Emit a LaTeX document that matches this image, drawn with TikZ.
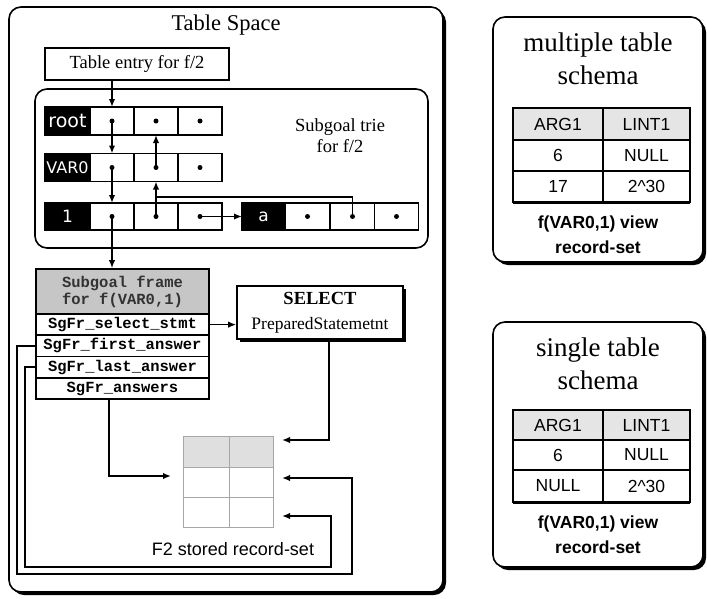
\documentclass[tikz,border=0pt]{standalone}
\usepackage{fontspec}
\setmainfont{Liberation Serif}
\setsansfont{Liberation Sans}
\setmonofont{Liberation Mono}
\newfontfamily\dejavu{DejaVu Sans}
\usetikzlibrary{arrows.meta,calc,shadows}
\newcommand{\myfs}[1]{\fontsize{#1}{#1}\selectfont}
\tikzset{
 ln/.style={line width=1.6pt},
 arr/.style={ln,-{Latex[length=8pt,width=6.5pt]}},
 cell/.style={draw,ln,fill=white,minimum width=44pt,minimum height=28pt,inner sep=0pt,outer sep=0pt},
 lab/.style={cell,fill=black,text=white,font=\dejavu\myfs{17}},
 frow/.style={draw,ln,fill=white,minimum width=173pt,minimum height=21.3pt,inner sep=0pt,outer sep=0pt,font=\ttfamily\bfseries\myfs{15.5}},
 rcell/.style={draw=gray!70,line width=1pt,minimum height=30pt,inner sep=0pt,outer sep=0pt},
 tcell/.style={draw,ln,minimum height=31pt,inner sep=0pt,outer sep=0pt,font=\sffamily\myfs{17.5}},
 captxt/.style={align=center,font=\sffamily\bfseries\fontsize{17.5}{25}\selectfont},
 ttl/.style={align=center,font=\fontsize{27}{33}\selectfont},
}
\begin{document}
\begin{tikzpicture}[x=1pt,y=-1pt]
\useasboundingbox (0,0) rectangle (707,598);
% ---------- Table Space ----------
\fill[rounded corners=12pt] (12,10) rectangle (446,595);
\filldraw[fill=white,ln,rounded corners=12pt] (9,7) rectangle (443,592);
\node[font=\myfs{22.5}] (ts) at (226,25) {Table Space};
\node[draw,ln,minimum width=184pt,minimum height=32pt,inner sep=0pt,font=\myfs{18.5}] (entry) at (137,64) {Table entry for f/2};
\draw[ln,rounded corners=12pt] (35,89) rectangle (428,248);
\node[align=center,font=\fontsize{18.5}{21}\selectfont] (trie) at (340,136) {Subgoal trie\\for f/2};
% trie rows
\node[lab,minimum width=45pt,font=\dejavu\myfs{19}] (rl) at (67.5,121) {root};
\node[cell] (r1) at (112,121) {};
\node[cell] (r2) at (156,121) {};
\node[cell] (r3) at (200,121) {};
\node[lab,minimum width=45pt,font=\dejavu\myfs{16}] (vl) at (67.5,167.5) {VAR0};
\node[cell] (v1) at (112,167.5) {};
\node[cell] (v2) at (156,167.5) {};
\node[cell] (v3) at (200,167.5) {};
\node[lab,minimum width=45pt,minimum height=27pt] (nl) at (67.5,216.5) {1};
\node[cell,minimum height=27pt] (n1) at (112,216.5) {};
\node[cell,minimum height=27pt] (n2) at (156,216.5) {};
\node[cell,minimum height=27pt] (n3) at (200,216.5) {};
\node[lab,minimum width=43pt,minimum height=27pt] (al) at (263.5,216.5) {a};
\node[cell,minimum width=45pt,minimum height=27pt] (a1) at (307.5,216.5) {};
\node[cell,minimum width=45pt,minimum height=27pt] (a2) at (352.5,216.5) {};
\node[cell,minimum height=27pt] (a3) at (396.5,216.5) {};
\foreach \c in {r1,r2,r3,v1,v2,v3,n1,n2,n3,a1,a2,a3} \fill (\c.center) circle (2.5);
% subgoal frame
\node[draw,ln,fill=gray!45,minimum width=173pt,minimum height=45pt,inner sep=0pt,align=center,font=\ttfamily\bfseries\fontsize{15.5}{17}\selectfont,text=black!80] (hdr) at (122.5,291.5) {Subgoal frame\\for f(VAR0,1)};
\node[frow] (sel) at (122.5,324.6) {SgFr\_select\_stmt};
\node[frow] (first) at (122.5,345.9) {SgFr\_first\_answer};
\node[frow] (last) at (122.5,367.2) {SgFr\_last\_answer};
\node[frow] (ans) at (122.5,388.5) {SgFr\_answers};
% trie connectors
\draw[arr] (entry.south -| r1.center) -- (r1.north);
\draw[arr] (r1.center) -- (v1.north);
\draw[arr] (v1.center) -- (n1.north);
\draw[arr] (n1.center) -- (n1.center |- hdr.north);
\draw[arr] (v2.center) -- (r2.south);
\draw[arr] (n2.center) -- (v2.south);
\draw[ln] (a2.center) |- ($(n2.center)!0.55!(v2.south)$);
\draw[arr] (n3.center) -- (al.west);
% select box
\node[draw,ln,fill=white,minimum width=166pt,minimum height=53pt,inner sep=0pt,align=center,
  font=\fontsize{17.5}{25}\selectfont,
  drop shadow={shadow xshift=2.5pt,shadow yshift=-2.5pt,fill=black,opacity=1}] (stmt) at (320,312.5)
  {{\myfs{18.5}\bfseries SELECT}\\PreparedStatemetnt};
\draw[arr] (sel.east) -- (sel.east -| stmt.west);
% record set
\node[rcell,fill=gray!25,minimum width=46pt,minimum height=31pt] (t11) at (206,451.5) {};
\node[rcell,fill=gray!25,minimum width=44pt,minimum height=31pt] (t12) at (251,451.5) {};
\node[rcell,minimum width=46pt] (t21) at (206,482) {};
\node[rcell,minimum width=44pt] (t22) at (251,482) {};
\node[rcell,minimum width=46pt] (t31) at (206,512) {};
\node[rcell,minimum width=44pt] (t32) at (251,512) {};
\node[font=\sffamily\myfs{18}] (f2) at (233,549) {F2 stored record-set};
\coordinate (p1) at (282,440);
\coordinate (p2) at (171,476);
\coordinate (p3) at (282,478);
\coordinate (p4) at (282,516);
\coordinate (q3) at (352,574);
\coordinate (q4) at (331,567);
\draw[arr] ([xshift=9pt]stmt.south) |- (p1);
\draw[arr] ([xshift=-13.5pt]ans.south) |- (p2);
\draw[arr] (first.west) -- ++(-19,0) |- (q3) |- (p3);
\draw[arr] (last.west) -- ++(-11,0) |- (q4) |- (p4);
% ---------- multiple table schema ----------
\fill[rounded corners=12pt] (496,20) rectangle (706,265);
\filldraw[fill=white,ln,rounded corners=12pt] (493,17) rectangle (703,262);
\node[ttl] (mt) at (598,58.5) {multiple table\\schema};
\node[tcell,fill=gray!20,minimum width=90pt,minimum height=32pt] (m11) at (558,124) {ARG1};
\node[tcell,fill=gray!20,minimum width=87pt,minimum height=32pt] (m12) at (646.5,124) {LINT1};
\node[tcell,minimum width=90pt] (m21) at (558,155.5) {6};
\node[tcell,minimum width=87pt] (m22) at (646.5,155.5) {NULL};
\node[tcell,minimum width=90pt] (m31) at (558,186.5) {17};
\node[tcell,minimum width=87pt] (m32) at (646.5,186.5) {2\^{}30};
\draw[line width=3pt] (m31.south west) -- (m32.south east);
\node[captxt] (mc) at (598,234.5) {f(VAR0,1) view\\record-set};
% ---------- single table schema ----------
\fill[rounded corners=12pt] (496,325) rectangle (706,570);
\filldraw[fill=white,ln,rounded corners=12pt] (493,322) rectangle (703,567);
\node[ttl] (st) at (598,363.5) {single table\\schema};
\node[tcell,fill=gray!20,minimum width=90pt,minimum height=30pt] (s11) at (558,425) {ARG1};
\node[tcell,fill=gray!20,minimum width=87pt,minimum height=30pt] (s12) at (646.5,425) {LINT1};
\node[tcell,minimum width=90pt,minimum height=30pt] (s21) at (558,455) {6};
\node[tcell,minimum width=87pt,minimum height=30pt] (s22) at (646.5,455) {NULL};
\node[tcell,minimum width=90pt,minimum height=32pt] (s31) at (558,486) {NULL};
\node[tcell,minimum width=87pt,minimum height=32pt] (s32) at (646.5,486) {2\^{}30};
\draw[line width=3pt] (s31.south west) -- (s32.south east);
\node[captxt] (sc) at (598,535) {f(VAR0,1) view\\record-set};
\end{tikzpicture}
\end{document}
